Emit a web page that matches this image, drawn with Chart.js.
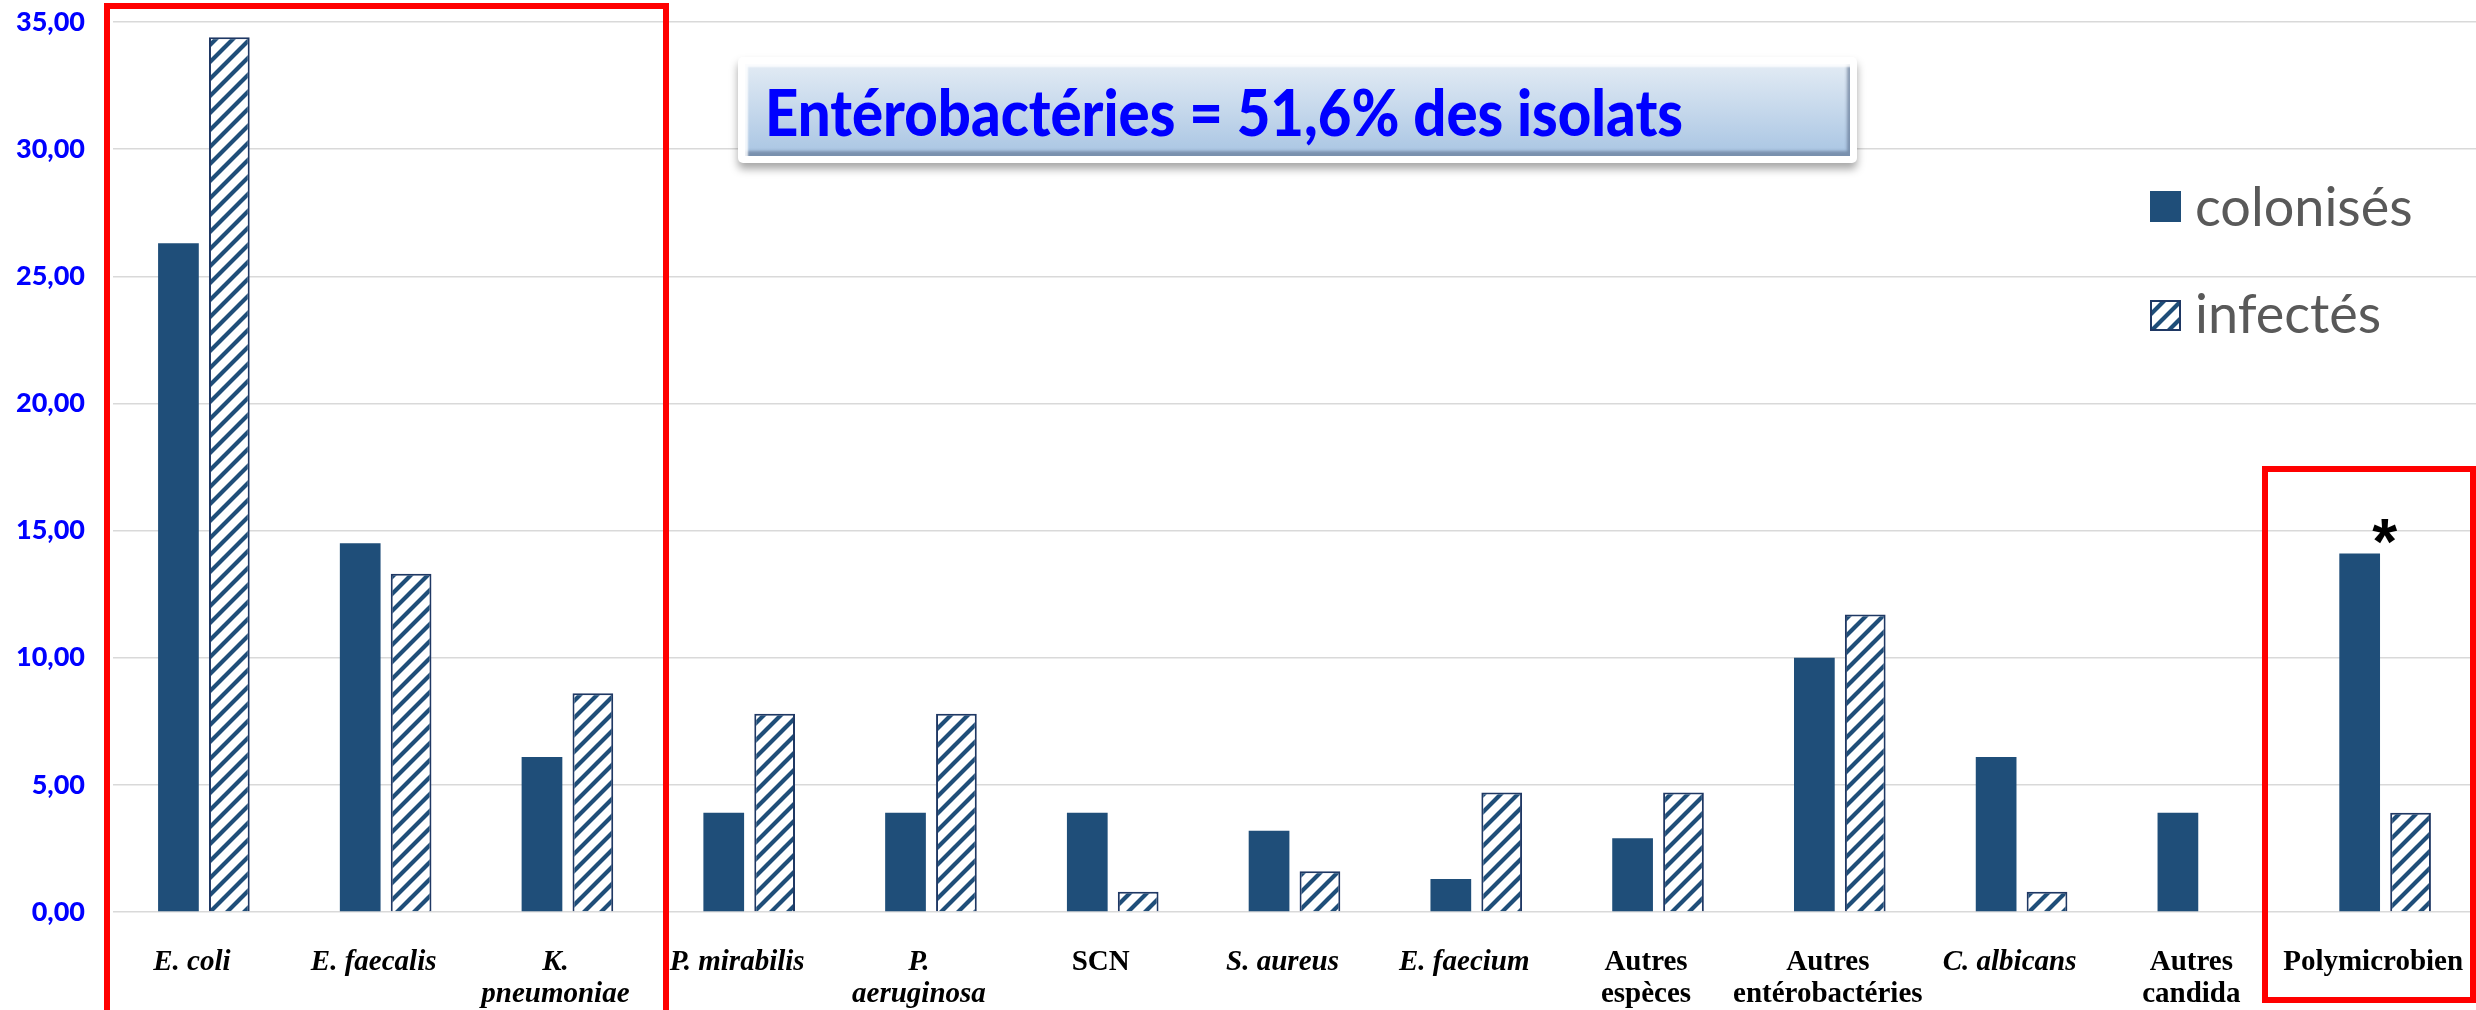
<!DOCTYPE html>
<html lang="fr">
<head>
<meta charset="utf-8">
<title>Isolats : colonisés / infectés</title>
<script src="https://cdn.jsdelivr.net/npm/chart.js@4.4.1/dist/chart.umd.min.js"></script>
<style>
  html, body { margin: 0; padding: 0; background: #fff; }
  #wrap { position: relative; width: 2476px; height: 1010px; overflow: hidden; }
  #chart { display: block; }
  .redBox { position: absolute; border: 6px solid #ff0000; box-sizing: border-box; pointer-events: none; }
  #callout {
    position: absolute; left: 738px; top: 57px; width: 1119px; height: 106px;
    box-sizing: border-box; background: #fff; border-radius: 5px;
    box-shadow: 0 6px 9px rgba(0,0,0,0.35);
  }
  #callout .inner {
    position: absolute; left: 7px; top: 7px; right: 7px; bottom: 7px;
    background: linear-gradient(#e2ebf4, #a9c5e3);
    box-shadow: inset 3px 3px 2px rgba(255,255,255,0.85), inset -3px -5px 3px rgba(95,115,145,0.65);
  }
  #callout span {
    position: absolute; left: 27px; top: 23px;
    font: 900 64px Lato, sans-serif; line-height: 64px; color: #0000ff;
    white-space: nowrap; transform-origin: 0 50%;
  }
</style>
</head>
<body>
<div id="wrap">
  <canvas id="chart" width="2476" height="1010"></canvas>
  <div class="redBox" style="left:104px; top:3px; width:565px; height:1030px;"></div>
  <div class="redBox" style="left:2262px; top:466px; width:214px; height:537px;"></div>
  <div id="callout"><div class="inner"></div><span id="calloutText">Entérobactéries = 51,6% des isolats</span></div>
</div>
<script>
// --- data (percent of isolates) ---
const categories = [
    'E. coli', 'E. faecalis', ['K.', 'pneumoniae'], 'P. mirabilis', ['P.', 'aeruginosa'],
    'SCN', 'S. aureus', 'E. faecium', ['Autres', 'espèces'], ['Autres', 'entérobactéries'],
    'C. albicans', ['Autres', 'candida'], 'Polymicrobien'
];
const italicLabels = [true, true, true, true, true, false, true, true, false, false, true, false, false];
const colonises = [26.3, 14.5, 6.1, 3.9, 3.9, 3.9, 3.2, 1.3, 2.9, 10.0, 6.1, 3.9, 14.1];
const infectes  = [34.4, 13.3, 8.6, 7.8, 7.8, 0.8, 1.6, 4.7, 4.7, 11.7, 0.8, 0, 3.9];
const yTicks = [0, 5, 10, 15, 20, 25, 30, 35];
const seriesNames = ['colonisés', 'infectés'];

const NAVY = '#1f4e79';
const NAVY_BORDER = '#1f3864';

// diagonal hatch like the Excel "wide upward diagonal" fill
function makeHatch() {
    const s = 17;
    const c = document.createElement('canvas');
    c.width = s; c.height = s;
    const g = c.getContext('2d');
    g.fillStyle = '#fff';
    g.fillRect(0, 0, s, s);
    g.strokeStyle = NAVY;
    g.lineWidth = 4.2;
    g.beginPath();
    g.moveTo(-2, s + 2); g.lineTo(s + 2, -2);
    g.moveTo(-2, 2); g.lineTo(2, -2);
    g.moveTo(s - 2, s + 2); g.lineTo(s + 2, s - 2);
    g.stroke();
    return g.createPattern(c, 'repeat');
}
const hatch = makeHatch();

// legend drawn inside the plot, top right
const legendPlugin = {
    id: 'innerLegend',
    afterDraw(chart) {
        const ctx = chart.ctx;
        const rows = [{ y: 191, base: 226 }, { y: 300, base: 333 }];
        ctx.save();
        chart.data.datasets.forEach((ds, i) => {
            const r = rows[i];
            ctx.fillStyle = ds.backgroundColor;
            ctx.fillRect(2150, r.y, 31, 31);
            if (i === 1) {
                ctx.strokeStyle = NAVY_BORDER;
                ctx.lineWidth = 2;
                ctx.strokeRect(2151, r.y + 1, 29, 29);
            }
            ctx.fillStyle = '#595959';
            ctx.font = '54px Lato';
            ctx.textBaseline = 'alphabetic';
            ctx.textAlign = 'left';
            ctx.fillText(ds.label, 2195, r.base);
        });
        ctx.restore();
    }
};

// significance star above the polymicrobial bar
const starPlugin = {
    id: 'star',
    afterDatasetsDraw(chart) {
        const bar = chart.getDatasetMeta(0).data[categories.length - 1];
        if (!bar) return;
        const ctx = chart.ctx;
        ctx.save();
        ctx.font = 'bold 64px "Liberation Sans"';
        ctx.fillStyle = '#000';
        ctx.textAlign = 'center';
        ctx.textBaseline = 'alphabetic';
        const m = ctx.measureText('*');
        const cy = bar.y - 22;
        const base = cy - (m.actualBoundingBoxDescent - m.actualBoundingBoxAscent) / 2;
        ctx.fillText('*', bar.x + 25, base);
        ctx.restore();
    }
};

new Chart(document.getElementById('chart'), {
    type: 'bar',
    data: {
        labels: categories,
        datasets: [
            {
                label: seriesNames[0],
                data: colonises,
                backgroundColor: NAVY,
                borderWidth: 0
            },
            {
                label: seriesNames[1],
                data: infectes,
                backgroundColor: hatch,
                borderColor: NAVY_BORDER,
                borderWidth: c => (c.raw ? 2 : 0)
            }
        ]
    },
    options: {
        responsive: false,
        animation: false,
        events: [],
        categoryPercentage: 0.56,
        barPercentage: 0.8,
        layout: { padding: { top: 22, right: 0, bottom: 0, left: 0 } },
        plugins: {
            legend: { display: false },
            tooltip: { enabled: false }
        },
        scales: {
            x: {
                grid: { display: false },
                border: { display: false },
                ticks: {
                    autoSkip: false,
                    maxRotation: 0,
                    minRotation: 0,
                    padding: 26,
                    labelOffset: -12,
                    color: '#000',
                    font: c => ({
                        family: '"Liberation Serif", serif',
                        size: 29,
                        weight: 'bold',
                        style: italicLabels[c.index] ? 'italic' : 'normal',
                        lineHeight: 1.12
                    })
                },
                afterFit: s => { s.height = 98; s.paddingLeft = 0; s.paddingRight = 0; }
            },
            y: {
                min: 0,
                max: 35,
                afterBuildTicks: s => { s.ticks = yTicks.map(v => ({ value: v })); },
                grid: { color: '#d9d9d9', lineWidth: 1.5, drawTicks: false },
                border: { display: false },
                ticks: {
                    padding: 28,
                    color: '#0000ff',
                    font: { family: 'Lato', size: 27, weight: '900' },
                    callback: v => v.toFixed(2).replace('.', ',')
                },
                afterFit: s => { s.width = 113; s.paddingTop = 0; s.paddingBottom = 0; }
            }
        }
    },
    plugins: [legendPlugin, starPlugin]
});

// squeeze the callout text to the width it has in the slide
const t = document.getElementById('calloutText');
const w = t.getBoundingClientRect().width;
t.style.transform = 'scaleX(' + (918 / w) + ')';
</script>
</body>
</html>
